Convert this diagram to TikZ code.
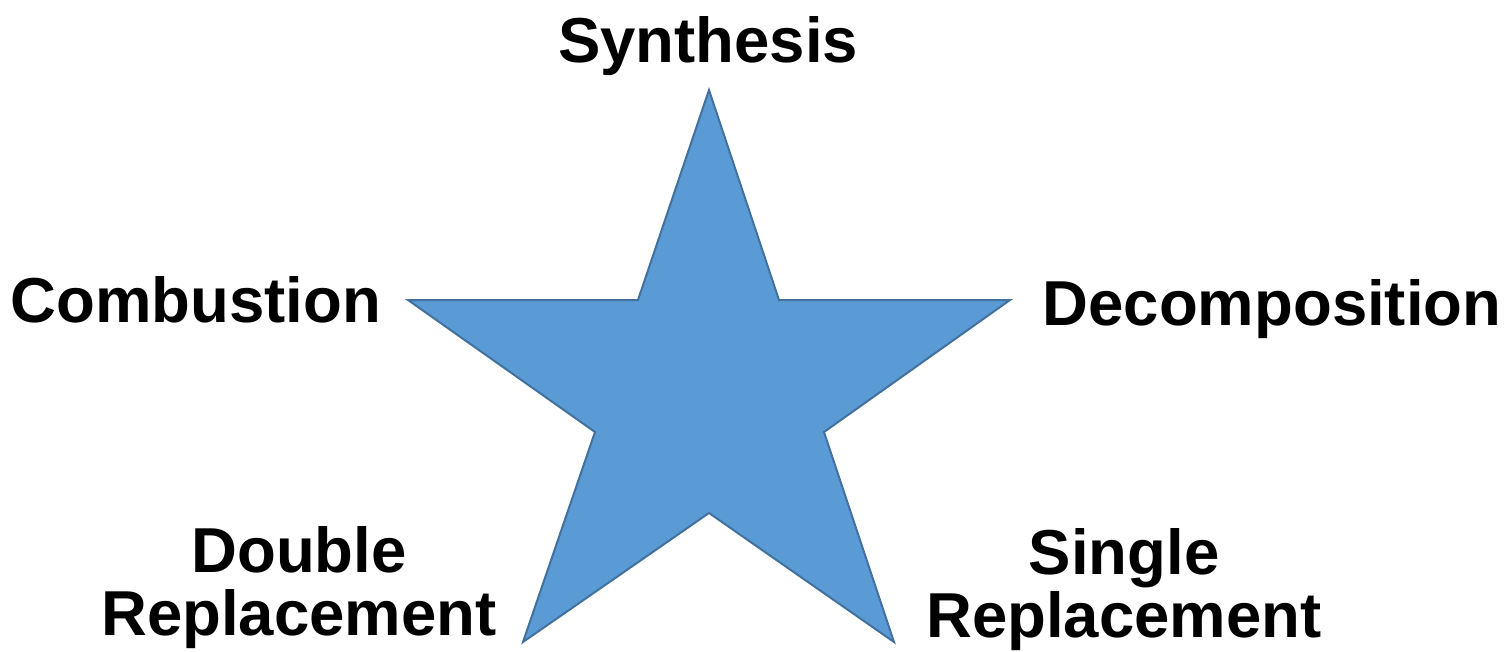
\documentclass[tikz,border=0pt]{standalone}
\usepackage{fontspec}
\setmainfont{Liberation Sans}
\definecolor{starfill}{HTML}{5B9BD5}
\definecolor{starline}{HTML}{41719C}
\begin{document}
\begin{tikzpicture}[x=1pt,y=-1pt,
  lbl/.style={font=\fontsize{63.5}{63}\selectfont\bfseries, inner sep=0pt, anchor=base, align=center},
  starshape/.style={fill=starfill, draw=starline, line width=2pt, line join=miter}]
\useasboundingbox (0,0) rectangle (1506,652);
\coordinate (p1) at (709,90);
\coordinate (p2) at (779,300);
\coordinate (p3) at (1010,300);
\coordinate (p4) at (824,432);
\coordinate (p5) at (894,642);
\coordinate (p6) at (709,513);
\coordinate (p7) at (523,642);
\coordinate (p8) at (595,432);
\coordinate (p9) at (408,300);
\coordinate (p10) at (638,300);
\draw[starshape] (p1) -- (p2) -- (p3) -- (p4) -- (p5) -- (p6) -- (p7) -- (p8) -- (p9) -- (p10) -- cycle;
\node[lbl] (syn) at (708,63) {Synthesis};
\node[lbl] (comb) at (196,322) {Combustion};
\node[lbl] (dec) at (1272,325) {Decomposition};
\node[lbl] (dbl) at (299,635) {Double\\Replacement};
\node[lbl] (sgl) at (1124,637) {Single\\Replacement};
\end{tikzpicture}
\end{document}
